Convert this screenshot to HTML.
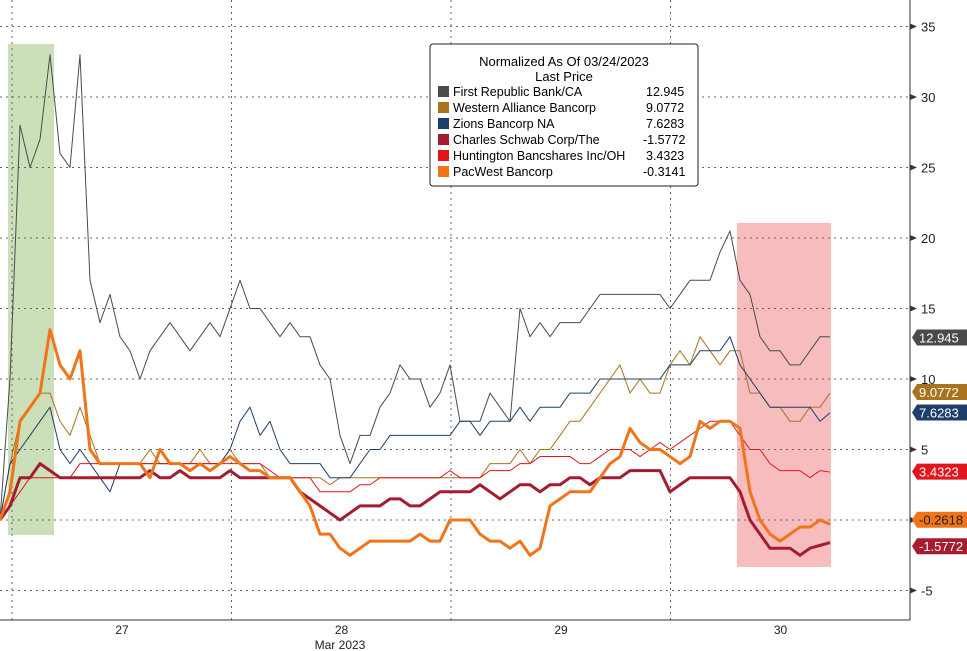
<!DOCTYPE html>
<html><head><meta charset="utf-8"><style>
body{margin:0;background:#fff;font-family:"Liberation Sans",sans-serif}
svg{display:block}
</style></head><body>
<svg id="c" width="967" height="651">
<rect x="8" y="44" width="46" height="491" fill="#b5d39a" opacity="0.7"/>
<rect x="737" y="223" width="94" height="344" fill="#f4a5a8" opacity="0.75"/>
<g id="grid"></g><g id="series"></g><g id="axis"></g>
<g>
<rect x="430" y="44" width="268" height="142" fill="#fff" stroke="#222" rx="3"/>
<text x="564" y="66" font-size="13" text-anchor="middle">Normalized As Of 03/24/2023</text>
<text x="564" y="81" font-size="13" text-anchor="middle">Last Price</text>
<g id="leg" font-size="12.5"></g>
</g>
</svg>
<script>
const seriesNames=["First Republic Bank/CA","Western Alliance Bancorp","Zions Bancorp NA","Charles Schwab Corp/The","Huntington Bancshares Inc/OH","PacWest Bancorp"];
const lastPrices=["12.945","9.0772","7.6283","-1.5772","3.4323","-0.3141"];
const tagValues=[12.945,9.0772,7.6283,-1.5772,3.4323,-0.2618];
const tagLabels=["12.945","9.0772","7.6283","-1.5772","3.4323","-0.2618"];
const yTicks=[35,30,25,20,15,10,5,0,-5];
const xTickLabels=["27","28","29","30"];
const dayBounds=[0,1,2,3];
const frc=[0,10,28,25,27,33,26,25,33,17,14,16,13,12,10,12,13,14,13,12,13,14,13,15,17,15,15,14,13,14,13,13,11,10,6,4,6,6,8,9,11,10,10,8,9,11,7,7,7,9,8,7,15,13,14,13,14,14,14,15,16,16,16,16,16,16,16,15,16,17,17,17,19,20.5,17,16,13,12,12,11,11,12,13,13];
const wal=[0,4,7,8,9,9,7,6,8,6,4,4,4,4,4,5,4,4,4,4,5,4,4,5,4,4,4,3,3,3,3,3,3,2.5,3,3,3,3,3,3,3,3,3,3,3,3,3,3,3,4,4,4,5,4,5,5,6,7,7,8,9,10,11,9,10,9,9,11,12,11,13,12,11,12,12,9,9,8,8,7,7,8,8,9];
const zion=[0,4,5,6,7,8,5,4,5,4,3,2,4,4,4,4,4,4,4,4,4,4,4,5,7,8,6,7,5,4,4,4,4,3,3,3,4,5,5,6,6,6,6,6,6,6,7,7,6,7,7,7,8,7,8,8,8,9,9,9,10,10,10,10,10,10,10,11,11,11,12,12,12,13,11,10,9,8,8,8,8,8,7,7.6];
const schw=[0,1,3,3,4,3.5,3,3,3,3,3,3,3,3,3,3.5,3,3,3.5,3,3,3,3,3.5,3,3,3,3,3,3,2,1.5,1,0.5,0,0.5,1,1,1,1.5,1.5,1,1,1.5,2,2,2,2,2.5,2,1.5,2,2.5,2.5,2,2.5,2.5,3,3,2.5,3,3,3,3.5,3.5,3.5,3.5,2,2.5,3,3,3,3,3,2,0,-1,-2,-2,-2,-2.5,-2,-1.8,-1.6];
const hban=[0,1,2,3,3,3,3,3,4,4,4,4,4,4,4,4,4,4,4,4,4,4,4,4,4,4,4,3.5,3,3,3,3,2,2,2,2,2.5,2.5,3,3,3,3,3,3,3,3.5,3,3,3,3.5,3.5,3.5,4,4,4.5,4.5,4.5,4.5,4,4,4.5,5,5,5,4.5,5,5.5,5,5.5,6,6.5,7,7,7,6,5,5,4,3.5,3.5,3.5,3,3.5,3.4];
const pacw=[0,2,7,8,9,13.5,11,10,12,5,4,4,4,4,4,3,5,4,4,3.5,4,3.5,4,4.5,4,3.5,3.5,3,3,3,2,1,-1,-1,-2,-2.5,-2,-1.5,-1.5,-1.5,-1.5,-1.5,-1,-1.5,-1.5,0,0,0,-1,-1.5,-1.5,-2,-1.5,-2.5,-2,1,1.5,2,2,2,3,4,4.5,6.5,5.5,5,5,4.5,4,4.5,7,6.5,7,7,6.5,2,0,-1,-1.5,-1,-0.5,-0.5,0,-0.3];
const colors=["#4a4a4a","#a8731f","#1f3f6b","#a51c30","#e0161c","#f0741a"];
const widths=[1,1,1,3,1,3];
const ns="http://www.w3.org/2000/svg";
const yS=v=>520-14.1*v, xS=i=>i*10, dayX=d=>12+d*219.5;
function mk(t,a,p){const e=document.createElementNS(ns,t);for(const k in a)e.setAttribute(k,a[k]);p.appendChild(e);return e;}
const grid=document.getElementById('grid'),ax=document.getElementById('axis'),ser=document.getElementById('series');
yTicks.forEach(v=>{const l=mk('line',{x1:0,x2:910,y1:yS(v),y2:yS(v),stroke:'#666','stroke-dasharray':'2,4','stroke-width':1},grid);


const t=mk('text',{x:921,y:yS(v)+5,'font-size':13,fill:'#222'},ax);t.textContent=v;


mk('path',{d:`M910 ${yS(v)-3}L917 ${yS(v)}L910 ${yS(v)+3}Z`,fill:'#333'},ax);});
dayBounds.forEach(d=>{const l=mk('line',{x1:dayX(d),x2:dayX(d),y1:0,y2:620,stroke:'#666','stroke-dasharray':'2,4'},grid);

});
xTickLabels.forEach((s,i)=>{const t=mk('text',{x:dayX(i)+110,y:634,'font-size':12,'text-anchor':'middle',fill:'#222'},ax);t.textContent=s;

});
const mt=mk('text',{x:340,y:649,'font-size':12,'text-anchor':'middle',fill:'#222'},ax);mt.textContent='Mar 2023';


mk('line',{x1:910,x2:910,y1:0,y2:620,stroke:'#333'},ax);
mk('line',{x1:0,x2:910,y1:620,y2:620,stroke:'#333'},ax);
const all=[frc,wal,zion,schw,hban,pacw];const order=[0,1,2,4,3,5];
order.forEach(k=>{const arr=all[k];
const p=mk('polyline',{points:arr.map((v,i)=>xS(i)+','+yS(v)).join(' '),fill:'none',stroke:colors[k],'stroke-width':widths[k],'stroke-linejoin':'round'},ser);

});
tagValues.forEach((v,k)=>{let y=yS(v);if(k==3)y+=4;if(k==5)y-=4;
const g=mk('g',{},ax);


mk('path',{d:`M912 ${y}L917 ${y-8}L967 ${y-8}L967 ${y+8}L917 ${y+8}Z`,fill:colors[k]},g);
const t=mk('text',{x:919,y:y+5,'font-size':13,fill:k==5?'#222':'#fff'},g);t.textContent=tagLabels[k];});
const leg=document.getElementById('leg');
seriesNames.forEach((n,i)=>{const y=96+i*16;const g=mk('g',{},leg);


mk('rect',{x:438,y:y-10,width:11,height:11,fill:colors[i]},g);
const t=mk('text',{x:453,y:y},g);t.textContent=n;
const t2=mk('text',{x:lastPrices[i][0]=='-'?643:646,y:y},g);t2.textContent=lastPrices[i];});
</script>
</body></html>
